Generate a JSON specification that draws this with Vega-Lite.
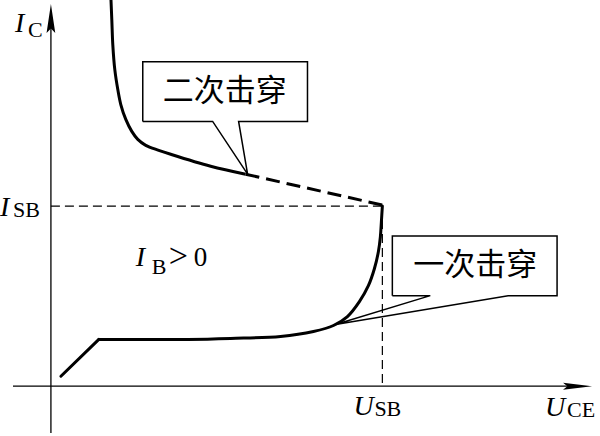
{
  "$schema": "https://vega.github.io/schema/vega-lite/v6.json",
  "width": 600,
  "height": 436,
  "autosize": {"type": "fit", "contains": "padding"},
  "padding": 0,
  "background": "white",
  "config": {"view": {"stroke": null}},
  "encoding": {
    "x": {"field": "u", "type": "quantitative", "scale": {"domain": [-50, 550], "nice": false, "zero": false}, "axis": null},
    "y": {"field": "i", "type": "quantitative", "scale": {"domain": [-48, 388], "nice": false, "zero": false}, "axis": null}
  },
  "layer": [
    {
      "data": {"values": [
        {"seg": "y", "u": 0, "i": -47, "o": 0}, {"seg": "y", "u": 0, "i": 372, "o": 1},
        {"seg": "x", "u": -38, "i": 0, "o": 0}, {"seg": "x", "u": 530, "i": 0, "o": 1}
      ]},
      "mark": {"type": "line", "color": "black", "strokeWidth": 1.3},
      "encoding": {"detail": {"field": "seg"}, "order": {"field": "o"}}
    },
    {
      "data": {"values": [{"u": 0, "i": 369.5}]},
      "mark": {"type": "point", "shape": "M0,-1L0.3,1L0,0.7L-0.3,1Z", "size": 841, "filled": true, "color": "black", "opacity": 1, "strokeWidth": 0}
    },
    {
      "data": {"values": [{"u": 527.5, "i": 0}]},
      "mark": {"type": "point", "shape": "M1,0L-1,-0.24L-0.7,0L-1,0.24Z", "size": 841, "filled": true, "color": "black", "opacity": 1, "strokeWidth": 0}
    },
    {
      "data": {"values": [
        {"seg": "h", "u": 0, "i": 181, "o": 0}, {"seg": "h", "u": 332, "i": 181, "o": 1},
        {"seg": "v", "u": 332, "i": 181, "o": 0}, {"seg": "v", "u": 332, "i": 0, "o": 1}
      ]},
      "mark": {"type": "line", "color": "black", "strokeWidth": 1.2, "strokeDash": [9, 5]},
      "encoding": {"detail": {"field": "seg"}, "order": {"field": "o"}}
    },
    {
      "data": {"values": [{"u": 10, "i": 10}, {"u": 48, "i": 47}]},
      "mark": {"type": "line", "color": "black", "strokeWidth": 3, "strokeCap": "round"}
    },
    {
      "data": {"values": [
        {"u": 48, "i": 47}, {"u": 90, "i": 47}, {"u": 137, "i": 47}, {"u": 180, "i": 48},
        {"u": 230, "i": 50}, {"u": 263, "i": 55}, {"u": 283, "i": 61}, {"u": 297, "i": 70},
        {"u": 309, "i": 85}, {"u": 318, "i": 101}, {"u": 324, "i": 118}, {"u": 328, "i": 135},
        {"u": 330, "i": 150}, {"u": 331, "i": 165}, {"u": 332, "i": 181}
      ]},
      "mark": {"type": "line", "color": "black", "strokeWidth": 3, "interpolate": "catmull-rom", "strokeCap": "round"}
    },
    {
      "data": {"values": [
        {"u": 60, "i": 392}, {"u": 61, "i": 368}, {"u": 62, "i": 343}, {"u": 64, "i": 318},
        {"u": 67, "i": 298}, {"u": 70, "i": 283}, {"u": 75, "i": 268}, {"u": 81, "i": 256},
        {"u": 87, "i": 248}, {"u": 95, "i": 242}, {"u": 108, "i": 237}, {"u": 120, "i": 233},
        {"u": 160, "i": 221}, {"u": 195, "i": 213}
      ]},
      "mark": {"type": "line", "color": "black", "strokeWidth": 3, "interpolate": "catmull-rom", "clip": true}
    },
    {
      "data": {"values": [{"u": 195, "i": 213}, {"u": 332, "i": 182}]},
      "mark": {"type": "line", "color": "black", "strokeWidth": 3, "strokeDash": [14, 7]}
    },
    {
      "data": {"values": [
        {"seg": "b1", "u": 92, "i": 266, "o": 0}, {"seg": "b1", "u": 92, "i": 326, "o": 1},
        {"seg": "b1", "u": 257, "i": 326, "o": 2}, {"seg": "b1", "u": 257, "i": 266, "o": 3},
        {"seg": "b1", "u": 188, "i": 266, "o": 4}, {"seg": "b1", "u": 197, "i": 213, "o": 5},
        {"seg": "b1", "u": 162, "i": 266, "o": 6}, {"seg": "b1", "u": 92, "i": 266, "o": 7},
        {"seg": "b2", "u": 342, "i": 91, "o": 0}, {"seg": "b2", "u": 342, "i": 151, "o": 1},
        {"seg": "b2", "u": 507, "i": 151, "o": 2}, {"seg": "b2", "u": 507, "i": 91, "o": 3},
        {"seg": "b2", "u": 458, "i": 91, "o": 4}, {"seg": "b2", "u": 285, "i": 62, "o": 5},
        {"seg": "b2", "u": 380, "i": 91, "o": 6}, {"seg": "b2", "u": 342, "i": 91, "o": 7}
      ]},
      "mark": {"type": "line", "color": "black", "strokeWidth": 1.5, "strokeJoin": "miter"},
      "encoding": {"detail": {"field": "seg"}, "order": {"field": "o"}}
    },
    {
      "data": {"values": [
        {"u": 174, "i": 296, "label": "二次击穿"},
        {"u": 425, "i": 121, "label": "一次击穿"}
      ]},
      "mark": {"type": "text", "font": "Noto Sans CJK SC", "fontSize": 31, "align": "center", "baseline": "middle", "color": "black"},
      "encoding": {"text": {"field": "label"}}
    },
    {
      "data": {"values": [
        {"u": -36, "i": 356, "label": "I"},
        {"u": -51, "i": 171, "label": "I"},
        {"u": 85, "i": 121, "label": "I"},
        {"u": 303, "i": -29, "label": "U"},
        {"u": 495, "i": -30, "label": "U"}
      ]},
      "mark": {"type": "text", "font": "Liberation Serif", "fontStyle": "italic", "fontSize": 28, "align": "left", "baseline": "alphabetic", "color": "black"},
      "encoding": {"text": {"field": "label"}}
    },
    {
      "data": {"values": [
        {"u": -23, "i": 351, "label": "C"},
        {"u": -38, "i": 170, "label": "SB"},
        {"u": 101, "i": 113, "label": "B"},
        {"u": 324, "i": -30, "label": "SB"},
        {"u": 517, "i": -31, "label": "CE"}
      ]},
      "mark": {"type": "text", "font": "Liberation Serif", "fontSize": 22, "align": "left", "baseline": "alphabetic", "color": "black"},
      "encoding": {"text": {"field": "label"}}
    },
    {
      "data": {"values": [{"u": 118, "i": 120, "label": ">"}]},
      "mark": {"type": "text", "font": "Liberation Serif", "fontSize": 34, "align": "left", "baseline": "alphabetic", "color": "black"},
      "encoding": {"text": {"field": "label"}}
    },
    {
      "data": {"values": [{"u": 143, "i": 121, "label": "0"}]},
      "mark": {"type": "text", "font": "Liberation Serif", "fontSize": 27, "align": "left", "baseline": "alphabetic", "color": "black"},
      "encoding": {"text": {"field": "label"}}
    }
  ]
}
